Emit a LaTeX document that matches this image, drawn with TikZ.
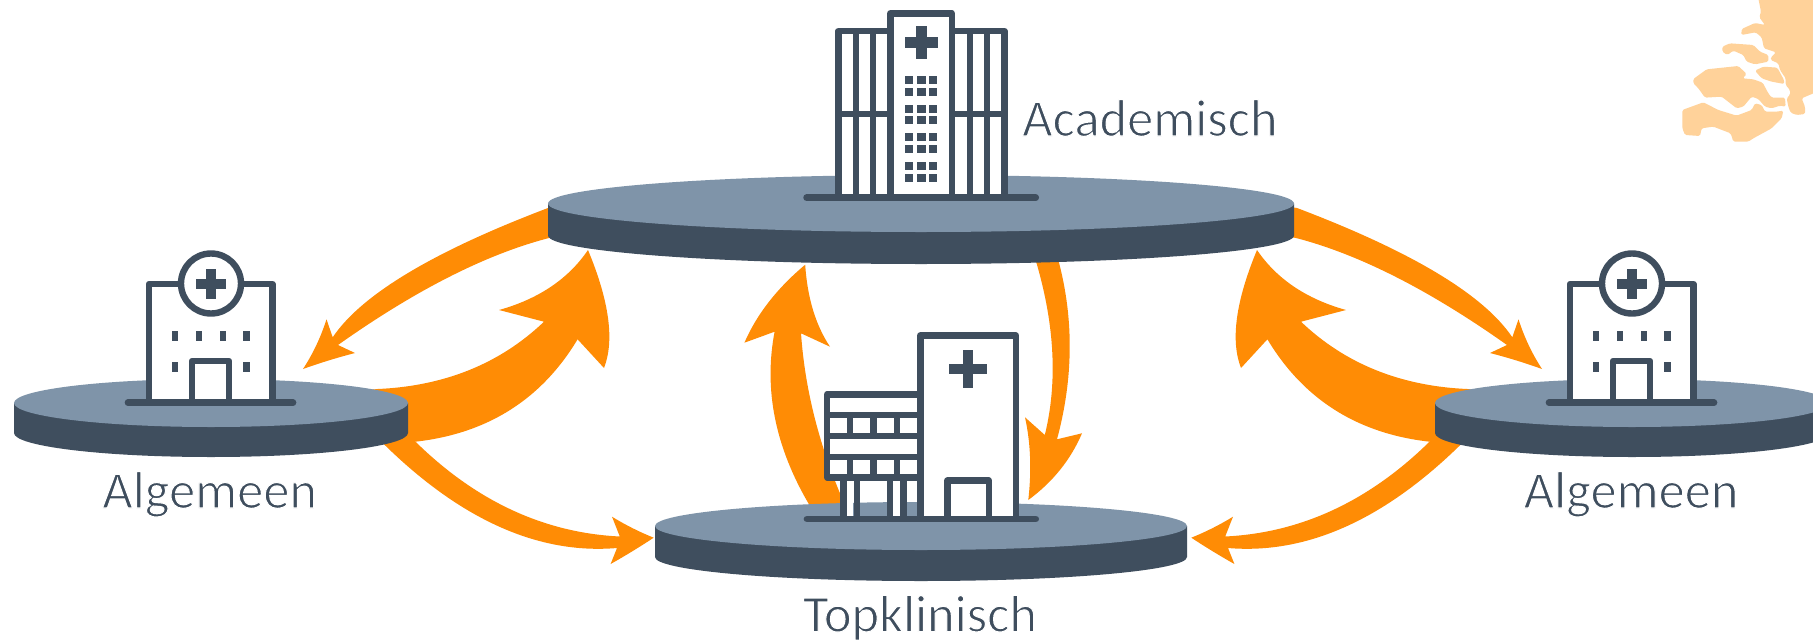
\documentclass[tikz,border=0pt]{standalone}
\usepackage{fontspec}
\usetikzlibrary{calc}
\setmainfont{Carlito}
\definecolor{slatedark}{HTML}{3F4E5E}
\definecolor{slatelight}{HTML}{7F94A9}
\definecolor{flow}{HTML}{FF8C05}
\definecolor{mapfill}{HTML}{FFD29A}
\tikzset{
  flowshape/.style={fill=flow,draw=none},
  wall/.style={draw=slatedark,line width=6.4pt,line join=round},
  wallfill/.style={wall,fill=white},
  basebar/.style={draw=slatedark,line width=6.7pt,line cap=round},
  solidmark/.style={fill=slatedark,draw=none},
  lbl/.style={text=slatedark,font=\fontsize{52.5}{60}\selectfont,anchor=base,inner sep=0pt},
  mappiece/.style={fill=mapfill,draw=none,rounded corners=1.5pt}
}
\newcommand{\thinned}[1]{\special{pdf:code q 2 Tr 1.1 w 1 1 1 RG}#1\special{pdf:code Q}}
% quadratic curve from #1 with control #2 to #3
\newcommand{\qc}[3]{.. controls ($(#1)!0.6667!(#2)$) and ($(#3)!0.6667!(#2)$) .. (#3)}
\newcommand{\platformdisc}[5]{% cx, cy, rx, ry, thickness
  \fill[slatedark] (#1-#3,#2) -- (#1-#3,#2+#5) arc[start angle=180,end angle=0,x radius=#3,y radius=#4] -- (#1+#3,#2) -- cycle;
  \fill[slatelight] (#1,#2) ellipse[x radius=#3,y radius=#4];
}
\newcommand{\crossmark}[5]{% cx, cy, half span x, half span y, half thickness
  \fill[solidmark] (#1-#5,#2-#4) rectangle (#1+#5,#2+#4);
  \fill[solidmark] (#1-#3,#2-#5) rectangle (#1+#3,#2+#5);
}
\newcommand{\clinicicon}{%
  \draw[wallfill] (149,402) -- (149,284) -- (272.5,284) -- (272.5,402) -- cycle;
  \draw[wallfill] (211,283.5) circle[radius=30];
  \crossmark{211}{284}{15}{15}{5}
  \foreach \wx in {175,199,223,246.5} \fill[solidmark] (\wx-3.2,331) rectangle (\wx+3.2,341);
  \foreach \wx in {175,246.5} \fill[solidmark] (\wx-3.2,362) rectangle (\wx+3.2,372);
  \draw[wall] (192,402) -- (192,361) -- (229,361) -- (229,402);
  \draw[basebar] (128,402.7) -- (293,402.7);
}
\newcommand{\sideflows}{%
  % central disc to small hospital
  \path[flowshape] (303,369) \qc{303,369}{318,346}{326.5,319.3} -- (332.7,337.3)
    \qc{332.7,337.3}{375.65,273.35}{548,208} -- (560,206) -- (560,236) -- (549,238)
    \qc{549,238}{454.5,262.5}{338,345} -- (355,353) \qc{355,353}{328,360}{303,369} -- cycle;
  % small hospital to central disc
  \path[flowshape] (588,250) \qc{588,250}{558.5,293.4}{499,310} -- (544,321.7)
    \qc{544,321.7}{478,384.65}{377.6,389} -- (350,392) -- (350,430) -- (415.5,441.7)
    \qc{415.5,441.7}{523.45,429.5}{577.6,339.3} -- (604,368)
    \qc{604,368}{620,327}{588,250} -- cycle;
  % small hospital to lower disc
  \path[flowshape] (653.7,537.7) \qc{653.7,537.7}{632,529}{612,516.7} -- (619.8,536.5)
    \qc{619.8,536.5}{506.4,531}{415.5,441.7} -- (400,425) -- (370,425) -- (383.7,444)
    \qc{383.7,444}{499.7,558}{617,548} -- (610.6,564) \qc{610.6,564}{632,552}{653.7,537.7} -- cycle;
}
\begin{document}
\begin{tikzpicture}[x=1pt,y=-1pt]
\useasboundingbox (0,0) rectangle (1813,640);
\clip (0,0) rectangle (1813,640);
\fill[white] (0,0) rectangle (1813,640);

% map
\begin{scope}[shift={(1640,0)},x=0.3333pt,y=-0.3333pt]
  \path[mappiece] (355,-5) -- (363,35) -- (358,52) -- (375,75) -- (345,69) -- (305,87) -- (304,105) -- (347,97) -- (365,112) -- (372,145) -- (408,157) -- (393,172) -- (392,180) -- (415,190) -- (420,210) -- (437,235) -- (437,255) -- (450,270) -- (450,285) -- (440,295) -- (445,320) -- (452,338) -- (470,345) -- (495,342) -- (495,320) -- (485,295) -- (525,278) -- (525,-5) -- cycle;
  \path[mappiece] (247,140) -- (270,130) -- (340,135) -- (360,155) -- (385,165) -- (385,185) -- (345,193) -- (320,185) -- (310,165) -- (280,152) -- (262,165) -- (247,155) -- cycle;
  \path[mappiece] (345,212) -- (370,200) -- (412,203) -- (432,240) -- (433,252) -- (395,245) -- (365,235) -- cycle;
  \path[mappiece] (160,237) -- (200,208) -- (295,198) -- (320,222) -- (308,235) -- (340,238) -- (368,248) -- (385,280) -- (395,293) -- (435,293) -- (437,320) -- (420,317) -- (395,325) -- (375,320) -- (355,297) -- (335,290) -- (310,320) -- (290,325) -- (245,290) -- (195,293) -- (175,265) -- (160,250) -- cycle;
  \path[mappiece] (127,330) -- (190,307) -- (235,330) -- (290,347) -- (335,330) -- (345,310) -- (365,315) -- (375,335) -- (410,335) -- (430,332) -- (425,355) -- (395,385) -- (340,415) -- (325,425) -- (280,425) -- (272,400) -- (220,380) -- (185,385) -- (180,408) -- (135,405) -- (127,385) -- cycle;
\end{scope}

% flows
\sideflows
\begin{scope}[xshift=1845pt,xscale=-1]
  \sideflows
\end{scope}
% lower disc to central disc
\path[flowshape] (805.2,264.7) \qc{805.2,264.7}{763,300}{744.4,342.7} -- (774.6,331.7)
  \qc{774.6,331.7}{758,418}{809.4,505} -- (845,505)
  \qc{845,505}{807,419}{801,333.3} -- (830,346.7)
  \qc{830,346.7}{808.4,314.3}{805.2,264.7} -- cycle;
% central disc to lower disc
\path[flowshape] (1028.3,500) \qc{1028.3,500}{1033.4,455}{1025,417.3} -- (1044.8,435)
  \qc{1044.8,435}{1064,357}{1036.4,262.7} -- (1030,240) -- (1055,240) -- (1059,262.7)
  \qc{1059,262.7}{1081.4,349}{1057,439.3} -- (1082,433.3)
  \qc{1082,433.3}{1065,473}{1028.3,500} -- cycle;

% platforms
\platformdisc{921}{203.5}{373}{28.5}{32}
\platformdisc{211}{403}{197}{24}{30}
\platformdisc{1632}{403}{197}{24}{30}
\platformdisc{921}{526}{266}{24}{31}

% academic building
\draw[wallfill] (838.3,197.7) -- (838.3,31) -- (1004.4,31) -- (1004.4,197.7) -- cycle;
\foreach \mx in {855.8,873,969.7,987} \draw[wall] (\mx,31) -- (\mx,197.7);
\draw[wall] (838.3,114) -- (1004.4,114);
\draw[wallfill] (890.3,197.7) -- (890.3,13.3) -- (951.7,13.3) -- (951.7,197.7) -- cycle;
\crossmark{921.3}{42.3}{16.4}{16.7}{5.3}
\foreach \wy in {79.7,91.7,108.5,120.3,137.3,149,166,177.8}
  \foreach \wx in {909.2,921.5,933.2}
    \fill[solidmark] (\wx-4.1,\wy-4) rectangle (\wx+4.1,\wy+4);
\draw[basebar] (806.6,197.7) -- (1035.7,197.7);

% topklinisch building
\fill[white] (847,480) rectangle (853,519);
\fill[white] (893,480) rectangle (900,519);
\draw[wallfill] (827.2,477.5) -- (827.2,394.3) -- (920.3,394.3) -- (920.3,477.5) -- cycle;
\foreach \hy in {415,435.7,456.7} \draw[wall] (827.2,\hy) -- (920.3,\hy);
\foreach \mx in {850,873.3,896.7} {
  \draw[wall] (\mx,415) -- (\mx,435.7);
  \draw[wall] (\mx,456.7) -- (\mx,477.5);
}
\foreach \cx in {843.3,856.7,889.8,903.6} \draw[wall] (\cx,477.5) -- (\cx,519);
\draw[wallfill] (920.3,519) -- (920.3,335.5) -- (1015.9,335.5) -- (1015.9,519) -- cycle;
\crossmark{968}{369}{18.8}{18.8}{5.2}
\draw[wall] (947.4,519) -- (947.4,480.5) -- (988.7,480.5) -- (988.7,519);
\draw[basebar] (807,519) -- (1035.7,519);

% small hospitals
\clinicicon
\begin{scope}[xshift=1421pt]
  \clinicicon
\end{scope}

% labels
\node[lbl,anchor=base west] (acad) at (1022,136) {\thinned{Academisch}};
\node[lbl] (algl) at (209.6,508) {\thinned{Algemeen}};
\node[lbl] (algr) at (1631,508) {\thinned{Algemeen}};
\node[lbl] (topk) at (920,631.7) {\thinned{Topklinisch}};
\end{tikzpicture}
\end{document}
